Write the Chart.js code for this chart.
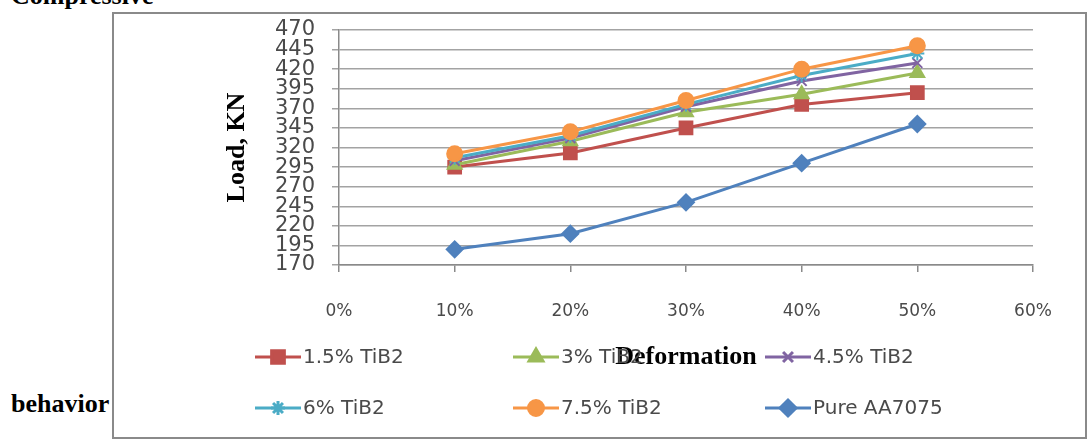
<!DOCTYPE html>
<html>
<head>
<meta charset="utf-8">
<title>Compressive behavior</title>
<script src="https://cdn.jsdelivr.net/npm/chart.js@4.4.1/dist/chart.umd.min.js"></script>
<style>
  html, body { margin: 0; padding: 0; background: #fff; width: 1088px; height: 441px; overflow: hidden; }
  #wrap { position: relative; width: 1088px; height: 441px; }
  #frame { position: absolute; left: 112px; top: 12px; width: 975px; height: 427px;
           border: 2px solid #8a8a8a; box-sizing: border-box; }
  #chart { position: absolute; left: 0; top: 0; }
  .doc { position: absolute; font-family: "Liberation Serif", "Times New Roman", serif;
         font-weight: bold; font-size: 26px; line-height: 26px; color: #000; white-space: nowrap; }
</style>
</head>
<body>
<div id="wrap">
  <div class="doc" style="left:11px; top:-17px;">Compressive</div>
  <div id="frame"></div>
  <div class="doc" style="left:11px; top:391px;">behavior</div>
  <canvas id="chart" width="1088" height="441"></canvas>
</div>
<script>
// Deformation levels (fraction) and compressive load (KN) for each composite
const deformation = [0.10, 0.20, 0.30, 0.40, 0.50];
const tib2_1_5 = [295, 313, 345, 375, 390];
const tib2_3   = [298, 328, 365, 388, 415];
const tib2_4_5 = [303, 332, 372, 405, 428];
const tib2_6   = [307, 335, 375, 412, 440];
const tib2_7_5 = [312, 340, 380, 420, 450];
const pureAA7075 = [190, 210, 250, 300, 350];

const seriesNames = ['1.5% TiB2', '3% TiB2', '4.5% TiB2', '6% TiB2', '7.5% TiB2', 'Pure AA7075'];
const xTickLabels = ['0%', '10%', '20%', '30%', '40%', '50%', '60%'];
const yTickValues = [170, 195, 220, 245, 270, 295, 320, 345, 370, 395, 420, 445, 470];

const seriesValues = [tib2_1_5, tib2_3, tib2_4_5, tib2_6, tib2_7_5, pureAA7075];
const seriesStyle = [
  { color: '#C0504D', point: 'rect',     radius: 9 },
  { color: '#9BBB59', point: 'triangle', radius: 8 },
  { color: '#8064A2', point: 'crossRot', radius: 7 },
  { color: '#4BACC6', point: 'star',     radius: 7 },
  { color: '#F79646', point: 'circle',   radius: 7.5 },
  { color: '#4F81BD', point: 'rectRot',  radius: 8 }
];

const datasets = seriesValues.map((vals, i) => ({
  label: seriesNames[i],
  data: vals.map((v, k) => ({ x: deformation[k], y: v })),
  borderColor: seriesStyle[i].color,
  backgroundColor: seriesStyle[i].color,
  pointBackgroundColor: seriesStyle[i].color,
  pointBorderColor: seriesStyle[i].color,
  pointStyle: seriesStyle[i].point,
  pointRadius: seriesStyle[i].radius,
  pointBorderWidth: 2,
  borderWidth: 3,
  tension: 0,
  order: seriesValues.length - i
}));

// Legend with line + marker samples, laid out in three columns and two rows
const lineLegend = {
  id: 'lineLegend',
  afterDraw(chart) {
    const ctx = chart.ctx;
    const cols = [255, 513, 765];
    const rows = [357, 408];
    ctx.save();
    seriesNames.forEach((name, i) => {
      const x = cols[i % 3];
      const y = rows[Math.floor(i / 3)];
      const st = seriesStyle[i];
      ctx.strokeStyle = st.color;
      ctx.lineWidth = 3;
      ctx.beginPath();
      ctx.moveTo(x, y);
      ctx.lineTo(x + 46, y);
      ctx.stroke();
      ctx.fillStyle = st.color;
      Chart.helpers.drawPoint(ctx, {
        pointStyle: st.point, rotation: 0, radius: st.radius, borderWidth: 2
      }, x + 23, y);
      ctx.fillStyle = '#4a4a4a';
      ctx.font = '20px "DejaVu Sans", sans-serif';
      ctx.textBaseline = 'middle';
      ctx.textAlign = 'left';
      ctx.fillText(name, x + 48, y + 1);
    });
    ctx.restore();
  }
};

new Chart(document.getElementById('chart'), {
  type: 'line',
  data: { datasets },
  plugins: [lineLegend],
  options: {
    responsive: false,
    animation: false,
    layout: { padding: { left: 222, top: 30, right: 55, bottom: 68 } },
    plugins: { legend: { display: false }, tooltip: { enabled: false } },
    scales: {
      x: {
        type: 'linear',
        min: 0, max: 0.6,
        afterFit(scale) { scale.height = 108; },
        afterBuildTicks(scale) {
          scale.ticks = xTickLabels.map((_, k) => ({ value: k / 10 }));
        },
        ticks: {
          callback: (v, k) => xTickLabels[k],
          color: '#4a4a4a',
          font: { family: '"DejaVu Sans", sans-serif', size: 17 },
          padding: 29,
          maxRotation: 0,
          autoSkip: false
        },
        grid: { drawOnChartArea: false, drawTicks: true, tickLength: 7, color: '#8a8a8a', lineWidth: 1.5 },
        border: { display: true, color: '#8a8a8a', width: 1.5 },
        title: {
          display: true, text: 'Deformation', color: '#000',
          font: { family: '"Liberation Serif", "Times New Roman", serif', size: 26, weight: 'bold' },
          padding: 0
        }
      },
      y: {
        type: 'linear',
        min: 170, max: 470,
        afterFit(scale) { scale.width = 117; },
        afterBuildTicks(scale) {
          scale.ticks = yTickValues.map(v => ({ value: v }));
        },
        ticks: {
          color: '#4a4a4a',
          font: { family: '"DejaVu Sans", sans-serif', size: 21, lineHeight: 1 },
          padding: 17,
          autoSkip: false
        },
        grid: { drawTicks: true, tickLength: 7, color: '#a3a3a3', lineWidth: 1.5 },
        border: { display: true, color: '#8a8a8a', width: 1.5 },
        title: {
          display: true, text: 'Load, KN', color: '#000',
          font: { family: '"Liberation Serif", "Times New Roman", serif', size: 26, weight: 'bold' },
          padding: 0
        }
      }
    }
  }
});
</script>
</body>
</html>
